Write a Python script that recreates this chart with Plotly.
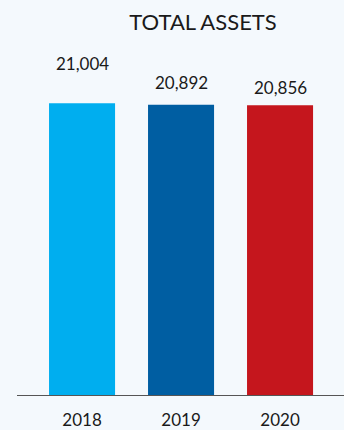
import plotly.graph_objects as go

years = ["2018", "2019", "2020"]
values = [21004, 20892, 20856]
labels = ["21,004", "20,892", "20,856"]
colors = ["#00aeef", "#005ea2", "#c5161d"]

# vertical offset (px) of each value label above its bar, as in the original layout
label_shift = [40, 22, 18]

BG = "#f4f9fd"
FONT = "Lato"

fig = go.Figure()
fig.add_trace(go.Bar(
    x=years, y=values, marker=dict(color=colors, line=dict(width=0)),
    width=0.667, hoverinfo="skip",
))
for i, (v, t) in enumerate(zip(values, labels)):
    fig.add_annotation(x=i, y=v, xref="x", yref="y", text=t, showarrow=False,
                       yshift=label_shift[i], yanchor="middle",
                       font=dict(family=FONT, size=17, color="#1a1a1a"))

fig.update_layout(
    width=344, height=430,
    margin=dict(l=17, r=0, t=0, b=35),
    paper_bgcolor=BG, plot_bgcolor=BG,
    showlegend=False,
    title=dict(text="TOTAL ASSETS", x=203/344, xanchor="center", xref="container",
               y=1-22/430, yanchor="middle", yref="container",
               font=dict(family=FONT, size=22, color="#1a1a1a")),
    xaxis=dict(type="category", range=[-0.657, 2.646], showgrid=False,
               showline=True, linecolor="#555555", linewidth=1,
               ticks="", tickfont=dict(family=FONT, size=17, color="#1a1a1a"),
               ticklabelstandoff=10),
    yaxis=dict(range=[0, 28426], visible=False, showgrid=False, zeroline=False),
)
fig.write_html("out.html")
